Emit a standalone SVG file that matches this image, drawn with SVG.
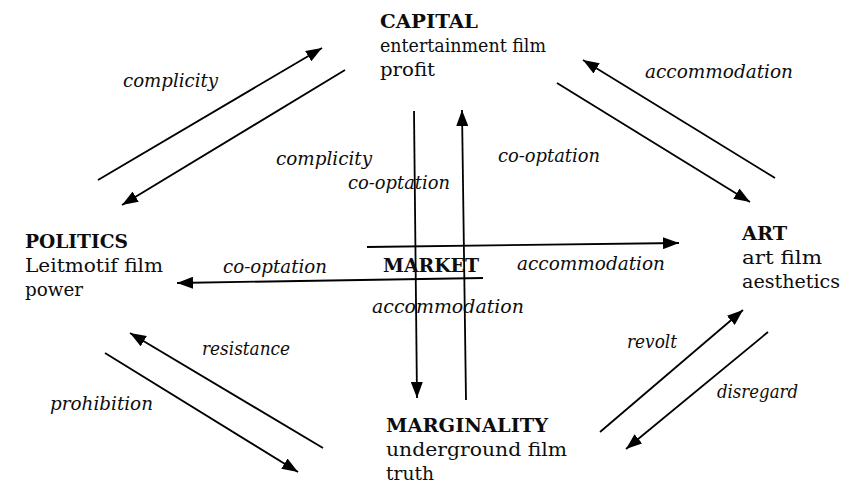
<svg xmlns="http://www.w3.org/2000/svg" width="851" height="492" viewBox="0 0 851 492">
  <defs>
    <marker id="head" markerUnits="userSpaceOnUse" markerWidth="16" markerHeight="12" refX="16" refY="6" orient="auto">
      <path d="M0,0 L16,6 L0,12 z" fill="#000"/>
    </marker>
    <style>
      .conn line { stroke: #000; stroke-width: 1.8; fill: none; marker-end: url(#head); }
      text { fill: #0d0d0d; }
    </style>
  </defs>
  <rect width="851" height="492" fill="#fff"/>

  <!-- connectors -->
  <g id="connectors" class="conn">
    <!-- politics <-> capital -->
    <line x1="98" y1="180" x2="322" y2="48"/>
    <line x1="345" y1="70" x2="122" y2="205"/>
    <!-- capital <-> art -->
    <line x1="775" y1="178" x2="583" y2="60"/>
    <line x1="557" y1="83" x2="750" y2="202"/>
    <!-- marginality <-> politics -->
    <line x1="323" y1="448" x2="130" y2="333"/>
    <line x1="105" y1="353" x2="298" y2="472"/>
    <!-- marginality <-> art -->
    <line x1="600" y1="432" x2="743" y2="310"/>
    <line x1="768" y1="332" x2="626" y2="449"/>
    <!-- through the market -->
    <line x1="414" y1="111" x2="417" y2="398"/>
    <line x1="466" y1="400" x2="462" y2="110"/>
    <line x1="367" y1="247" x2="679" y2="243"/>
    <line x1="483" y1="278" x2="177" y2="283"/>
  </g>

  <!-- connector labels -->
  <g id="labels" font-family="DejaVu Serif Condensed, DejaVu Serif, serif" font-style="italic" font-size="18.5">
    <text x="123" y="87" textLength="95" lengthAdjust="spacingAndGlyphs">complicity</text>
    <text x="276" y="165" textLength="96" lengthAdjust="spacingAndGlyphs">complicity</text>
    <text x="348" y="189" textLength="102" lengthAdjust="spacingAndGlyphs">co-optation</text>
    <text x="498" y="162" textLength="102" lengthAdjust="spacingAndGlyphs">co-optation</text>
    <text x="645" y="78" textLength="148" lengthAdjust="spacingAndGlyphs">accommodation</text>
    <text x="223" y="273" textLength="104" lengthAdjust="spacingAndGlyphs">co-optation</text>
    <text x="517" y="270" textLength="148" lengthAdjust="spacingAndGlyphs">accommodation</text>
    <text x="372" y="313" textLength="152" lengthAdjust="spacingAndGlyphs">accommodation</text>
    <text x="202" y="355" textLength="88" lengthAdjust="spacingAndGlyphs">resistance</text>
    <text x="50" y="410" textLength="103" lengthAdjust="spacingAndGlyphs">prohibition</text>
    <text x="627" y="348" textLength="50" lengthAdjust="spacingAndGlyphs">revolt</text>
    <text x="717" y="398" textLength="81" lengthAdjust="spacingAndGlyphs">disregard</text>
  </g>

  <g id="capital" font-family="DejaVu Serif Condensed, DejaVu Serif, serif" font-size="19">
    <text font-weight="bold" x="380" y="28" textLength="98" lengthAdjust="spacingAndGlyphs">CAPITAL</text>
    <text x="380" y="52" textLength="166" lengthAdjust="spacingAndGlyphs">entertainment film</text>
    <text x="380" y="76" textLength="55" lengthAdjust="spacingAndGlyphs">profit</text>
  </g>

  <g id="politics" font-family="DejaVu Serif Condensed, DejaVu Serif, serif" font-size="19">
    <text font-weight="bold" x="25" y="248" textLength="103" lengthAdjust="spacingAndGlyphs">POLITICS</text>
    <text x="25" y="272" textLength="138" lengthAdjust="spacingAndGlyphs">Leitmotif film</text>
    <text x="25" y="296" textLength="58" lengthAdjust="spacingAndGlyphs">power</text>
  </g>

  <g id="art" font-family="DejaVu Serif Condensed, DejaVu Serif, serif" font-size="19">
    <text font-weight="bold" x="742" y="240" textLength="45" lengthAdjust="spacingAndGlyphs">ART</text>
    <text x="742" y="264" textLength="80" lengthAdjust="spacingAndGlyphs">art film</text>
    <text x="742" y="288" textLength="98" lengthAdjust="spacingAndGlyphs">aesthetics</text>
  </g>

  <g id="marginality" font-family="DejaVu Serif Condensed, DejaVu Serif, serif" font-size="19">
    <text font-weight="bold" x="386" y="432" textLength="162" lengthAdjust="spacingAndGlyphs">MARGINALITY</text>
    <text x="386" y="456" textLength="181" lengthAdjust="spacingAndGlyphs">underground film</text>
    <text x="386" y="480" textLength="48" lengthAdjust="spacingAndGlyphs">truth</text>
  </g>

  <g id="market" font-family="DejaVu Serif Condensed, DejaVu Serif, serif" font-size="19">
    <text font-weight="bold" x="383" y="272" textLength="96" lengthAdjust="spacingAndGlyphs">MARKET</text>
  </g>
</svg>
